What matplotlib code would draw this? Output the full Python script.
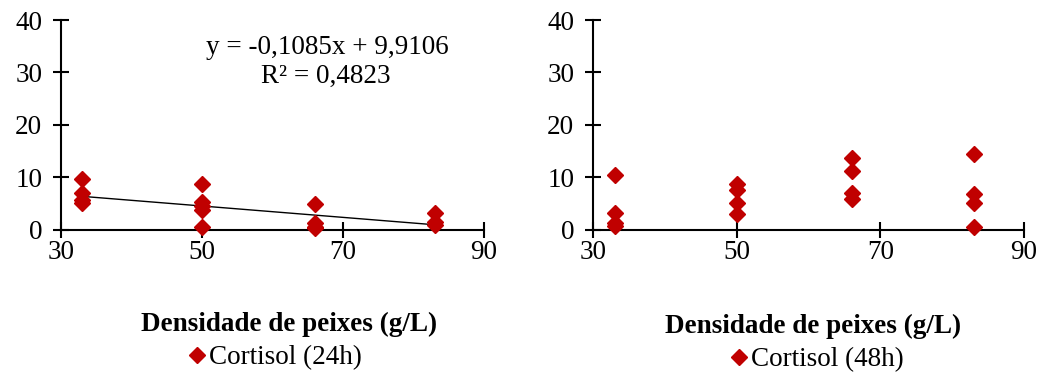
import matplotlib
matplotlib.use("Agg")
import matplotlib.pyplot as plt
from matplotlib.lines import Line2D

plt.rcParams['font.family'] = ['Liberation Serif', 'DejaVu Serif']

# Data
x24 = [33, 33, 33, 33, 50, 50, 50, 50, 50, 66, 66, 66, 66, 83, 83, 83]
y24 = [9.7, 6.9, 5.7, 5.0, 8.6, 5.2, 4.5, 3.8, 0.4, 4.8, 1.3, 0.5, 0.2, 3.2, 1.5, 0.8]
x48 = [33, 33, 33, 33, 50, 50, 50, 50, 66, 66, 66, 66, 83, 83, 83, 83]
y48 = [10.4, 3.2, 1.3, 0.6, 8.6, 7.5, 5.0, 2.9, 13.6, 11.2, 7.0, 5.9, 14.4, 6.8, 5.1, 0.5]
slope, intercept = -0.1085, 9.9106
trend_x = [33, 83]
eq_text = "y = -0,1085x + 9,9106"
r2_text = "R² = 0,4823"
xticks = [30, 50, 70, 90]
yticks = [0, 10, 20, 30, 40]
xlabel = "Densidade de peixes (g/L)"
leg24 = "Cortisol (24h)"
leg48 = "Cortisol (48h)"

red = '#C00000'
FS = 19.5
W, H = 1040, 376
fig = plt.figure(figsize=(W/100, H/100), dpi=100)

def make_ax(left_px, right_px):
    ax = fig.add_axes([left_px/W, 1-229.5/H, (right_px-left_px)/W, 209.5/H])
    ax.set_xlim(30, 90)
    ax.set_ylim(0, 40)
    ax.set_xticks(xticks)
    ax.set_yticks(yticks)
    for s in ['top', 'right']:
        ax.spines[s].set_visible(False)
    for s in ['left', 'bottom']:
        ax.spines[s].set_linewidth(1.5)
    ax.tick_params(direction='inout', length=11, width=1.5, labelsize=FS)
    ax.tick_params(axis='y', pad=8)
    ax.tick_params(axis='x', pad=2)
    ax.patch.set_alpha(0)
    return ax

ax1 = make_ax(61, 484)
ax1.plot(x24, y24, linestyle='none', marker='D', color=red, markersize=8.5, clip_on=False, zorder=3)
ax1.plot(trend_x, [slope*v + intercept for v in trend_x], color='black', linewidth=1, zorder=2)
ax1.text(0.629, 0.87, eq_text, transform=ax1.transAxes, ha='center', va='center', fontsize=FS)
ax1.text(0.625, 0.73, r2_text, transform=ax1.transAxes, ha='center', va='center', fontsize=FS)

ax2 = make_ax(593, 1024)
ax2.plot(x48, y48, linestyle='none', marker='D', color=red, markersize=8.5, clip_on=False, zorder=3)

fig.text(289/W, 1-324/H, xlabel, ha='center', va='center', fontsize=FS, fontweight='bold')
fig.text(813/W, 1-326/H, xlabel, ha='center', va='center', fontsize=FS, fontweight='bold')

h = [Line2D([], [], linestyle='none', marker='D', color=red, markersize=8)]
fig.legend(h, [leg24], loc='center', bbox_to_anchor=(275/W, 1-358/H), frameon=False,
           fontsize=FS, handlelength=0.6, handletextpad=0.15, borderpad=0)
fig.legend(h, [leg48], loc='center', bbox_to_anchor=(817/W, 1-360/H), frameon=False,
           fontsize=FS, handlelength=0.6, handletextpad=0.15, borderpad=0)

fig.savefig('out.png', dpi=100)
